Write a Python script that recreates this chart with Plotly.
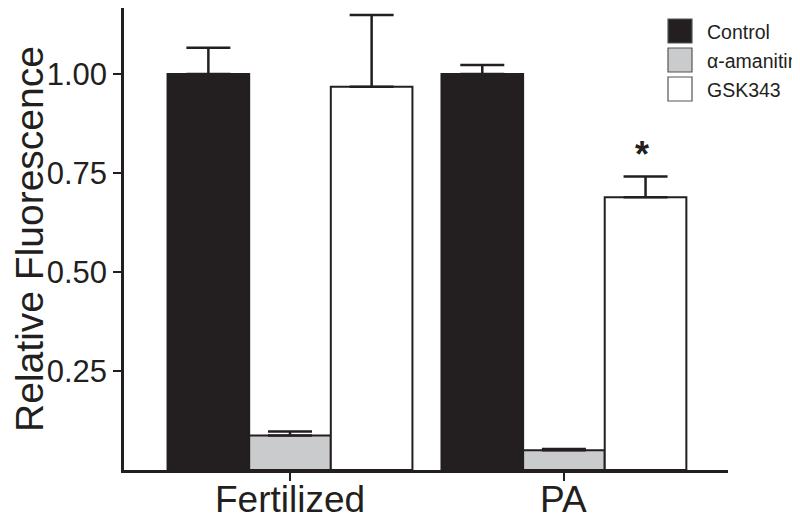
import plotly.graph_objects as go

groups = ["Fertilized", "PA"]
series_names = ["Control", "α-amanitin", "GSK343"]
control = [1.00, 1.00]
control_err = [0.066, 0.023]
amanitin = [0.087, 0.050]
amanitin_err = [0.010, 0.003]
gsk343 = [0.968, 0.689]
gsk343_err = [0.181, 0.052]
y_ticks = [0.25, 0.50, 0.75, 1.00]

fills = ["#231f20", "#cacbcd", "#ffffff"]
dark = "#231f20"
font_family = "Liberation Sans, Arial, sans-serif"

# The page body adds an 8px offset; size the figure so the visible
# 800x521 window matches the reference layout.
OFF = 8
W, H = 800 - OFF, 521 - OFF
ML, MR, MT, MB = 124 - OFF, 72, 0, 51
PW, PH = W - ML - MR, H - MT - MB
UNIT_PX = 396.0  # pixels per 1.0 on the y axis
Y_TOP = PH / UNIT_PX


def px(x):
    """reference page x -> paper x"""
    return (x - OFF - ML) / PW


def py(y):
    """reference page y -> paper y"""
    return 1 - (y - OFF - MT) / PH


fig = go.Figure()
vals = [control, amanitin, gsk343]
errs = [control_err, amanitin_err, gsk343_err]
for name, v, e, c in zip(series_names, vals, errs, fills):
    fig.add_trace(go.Bar(
        x=groups, y=v, name=name,
        marker=dict(color=c, line=dict(color=dark, width=2)),
        error_y=dict(type="data", array=e, arrayminus=[0] * len(e), symmetric=False,
                     color=dark, thickness=2.5, width=22),
        showlegend=False,
    ))

# significance marker over PA / GSK343
fig.add_annotation(x=1.285, y=gsk343[1] + gsk343_err[1], xref="x", yref="y",
                   text="<b>*</b>", showarrow=False, yanchor="bottom", yshift=0,
                   font=dict(size=36, color=dark, family=font_family))

# category labels under the axis
for g in groups:
    fig.add_annotation(x=g, xref="x", yref="paper", y=py(499.5), text=g,
                       showarrow=False, yanchor="middle",
                       font=dict(size=37, color=dark, family=font_family))

# custom legend (pixel layout in reference coordinates)
sq_x0, sq_x1, txt_x = 668, 692, 705
sq_tops = [19, 48, 77]
sq_size = 24
for name, c, top in zip(series_names, fills, sq_tops):
    fig.add_shape(type="rect", xref="paper", yref="paper",
                  x0=px(sq_x0), x1=px(sq_x1), y0=py(top + sq_size), y1=py(top),
                  fillcolor=c, line=dict(color="#555555", width=1.2))
    fig.add_annotation(xref="paper", yref="paper", x=px(txt_x), y=py(top + sq_size / 2 + 1),
                       text=name, showarrow=False, xanchor="left", yanchor="middle",
                       font=dict(size=19.5, color=dark, family=font_family))

fig.update_layout(
    width=W, height=H,
    margin=dict(l=ML, r=MR, t=MT, b=MB, autoexpand=False),
    barmode="group", bargap=0.106, bargroupgap=0,
    plot_bgcolor="white", paper_bgcolor="white",
    font=dict(family=font_family, color=dark),
)
fig.update_xaxes(
    range=[-0.606, 1.599], showline=True, linecolor=dark, linewidth=2.5,
    ticks="outside", ticklen=8, tickwidth=2, tickcolor=dark,
    showticklabels=False, showgrid=False, zeroline=False, automargin=False,
)
fig.update_yaxes(
    range=[0, Y_TOP], showline=True, linecolor=dark, linewidth=2.5,
    ticks="outside", ticklen=8, tickwidth=2, tickcolor=dark,
    tickvals=y_ticks, tickformat=".2f", tickfont=dict(size=31, color=dark),
    title=dict(text="Relative Fluorescence", font=dict(size=39, color=dark), standoff=11),
    showgrid=False, zeroline=False, automargin=False,
)

fig.write_html("out.html")
